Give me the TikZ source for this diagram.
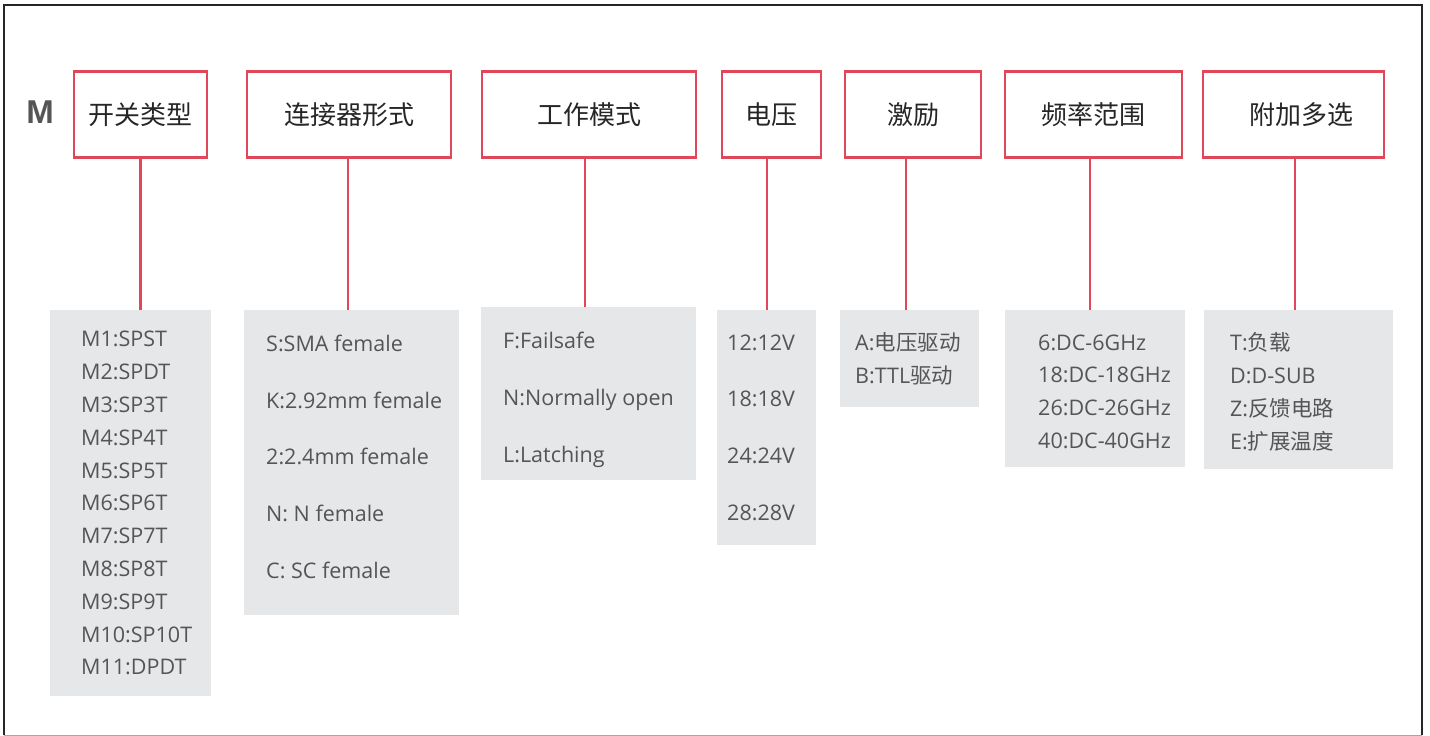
\documentclass[tikz,border=0pt]{standalone}
\usepackage{fontspec}
\setmainfont{Open Sans}
\newfontfamily\cjk{Noto Sans CJK SC}
\newfontfamily\codefont{Liberation Sans}
\usetikzlibrary{positioning}

\definecolor{hdrred}{RGB}{224,72,90}
\definecolor{listgray}{RGB}{230,231,233}
\definecolor{txtgray}{RGB}{85,85,85}

\tikzset{
  hdr/.style={draw=hdrred, line width=2.2pt, minimum height=86pt, inner sep=0pt,
    text=black!85, font=\cjk\fontsize{26}{28}\selectfont},
  listbox/.style={fill=listgray, anchor=north west, inner sep=0pt},
  items/.style={text=txtgray, align=left, inner sep=0pt, font=\fontsize{21.5}{32.8}\selectfont},
  spaced/.style={items, font=\fontsize{21.5}{56.7}\selectfont},
  conn/.style={draw=hdrred, line width=2.2pt}
}

\begin{document}
\begin{tikzpicture}[x=1pt, y=-1pt]
  \useasboundingbox (0,0) rectangle (1430,736);

  % outer frame
  \draw[black!85, line width=2pt] (4,735) -- (4,5) -- (1422,5) -- (1422,735);
  \draw[black!35, line width=1pt] (4,735.5) -- (1422,735.5);

  % model prefix
  \node[text=txtgray, font=\codefont\bfseries\fontsize{33}{36}\selectfont] (pre) at (40,112) {M};

  % header boxes
  \node[hdr, minimum width=133pt] (h1) at (140.5,114.5) {开关类型};
  \node[hdr, minimum width=204pt] (h2) at (349,114.5) {连接器形式};
  \node[hdr, minimum width=214pt] (h3) at (589,114.5) {工作模式};
  \node[hdr, minimum width=99pt] (h4) at (771.5,114.5) {电压};
  \node[hdr, minimum width=136pt] (h5) at (913,114.5) {激励};
  \node[hdr, minimum width=177pt] (h6) at (1093.5,114.5) {频率范围};
  \node[hdr, minimum width=181pt] (h7) at (1293.5,114.5) {\hspace{15pt}附加多选};

  % option boxes
  \node[listbox, minimum width=161pt, minimum height=386pt] (l1) at (50,310) {};
  \node[listbox, minimum width=215pt, minimum height=305pt] (l2) at (244,310) {};
  \node[listbox, minimum width=215pt, minimum height=173pt] (l3) at (481,307) {};
  \node[listbox, minimum width=99pt, minimum height=235pt] (l4) at (717,310) {};
  \node[listbox, minimum width=139pt, minimum height=97pt] (l5) at (840,310) {};
  \node[listbox, minimum width=180pt, minimum height=157pt] (l6) at (1005,310) {};
  \node[listbox, minimum width=189pt, minimum height=159pt] (l7) at (1204,310) {};

  % option texts
  \node[items, right=31pt of l1.west] (t1) {M1:SPST\\M2:SPDT\\M3:SP3T\\M4:SP4T\\M5:SP5T\\M6:SP6T\\M7:SP7T\\M8:SP8T\\M9:SP9T\\M10:SP10T\\M11:DPDT};
  \node[spaced, right=22pt of l2.west, yshift=6pt] (t2) {S:SMA female\\K:2.92mm female\\2:2.4mm female\\N: N female\\C: SC female};
  \node[spaced, right=22pt of l3.west, yshift=-6pt] (t3) {F:Failsafe\\N:Normally open\\L:Latching};
  \node[spaced, right=10pt of l4.west] (t4) {12:12V\\18:18V\\24:24V\\28:28V};
  \node[items, right=15pt of l5.west] (t5) {A:{\cjk 电压驱动}\\B:TTL{\cjk 驱动}};
  \node[items, right=33pt of l6.west, yshift=-3pt] (t6) {6:DC-6GHz\\18:DC-18GHz\\26:DC-26GHz\\40:DC-40GHz};
  \node[items, right=26pt of l7.west, yshift=-2pt] (t7) {T:{\cjk 负载}\\D:D-SUB\\Z:{\cjk 反馈电路}\\E:{\cjk 扩展温度}};

  % connectors
  \draw[conn] (h1.south) -- (h1.south |- l1.north);
  \draw[conn] ([xshift=-1pt]h2.south) -- ([xshift=-1pt]h2.south |- l2.north);
  \draw[conn] ([xshift=-4pt]h3.south) -- ([xshift=-4pt]h3.south |- l3.north);
  \draw[conn] ([xshift=-4.5pt]h4.south) -- ([xshift=-4.5pt]h4.south |- l4.north);
  \draw[conn] ([xshift=-7pt]h5.south) -- ([xshift=-7pt]h5.south |- l5.north);
  \draw[conn] ([xshift=-3.5pt]h6.south) -- ([xshift=-3.5pt]h6.south |- l6.north);
  \draw[conn] ([xshift=1.5pt]h7.south) -- ([xshift=1.5pt]h7.south |- l7.north);

\end{tikzpicture}
\end{document}
